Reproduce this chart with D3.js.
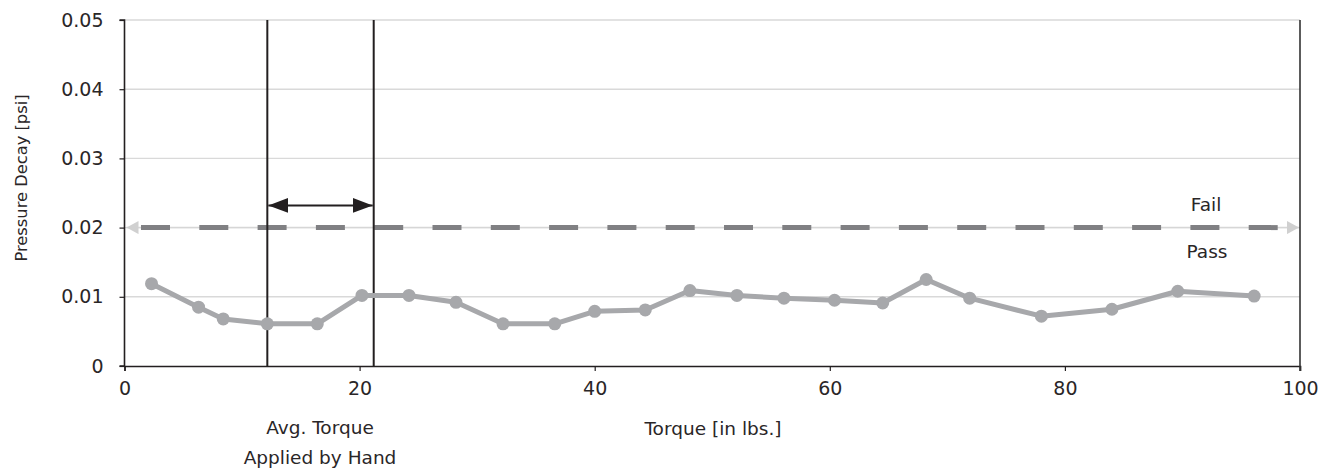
<!DOCTYPE html>
<html><head><meta charset="utf-8">
<script src="https://cdn.jsdelivr.net/npm/d3@7"></script>
<style>body{margin:0;background:#fff}text{font-family:"DejaVu Sans",sans-serif;fill:#2a2627}</style>
</head><body><svg id="c" width="1328" height="471"></svg>
<script>
const torque = [2.3,6.3,8.4,12.15,16.4,20.2,24.2,28.2,32.2,36.6,40.0,44.3,48.1,52.1,56.1,60.4,64.5,68.2,71.9,78.0,84.0,89.6,96.1];
const decay  = [0.0119,0.0085,0.0068,0.0061,0.0061,0.0102,0.0102,0.0092,0.0061,0.0061,0.0079,0.0081,0.0109,0.0102,0.0098,0.0095,0.0091,0.0125,0.0098,0.0072,0.0082,0.0108,0.0101];
const xTicks = [0,20,40,60,80,100];
const yTicks = [0,0.01,0.02,0.03,0.04,0.05];
const yTickLabels = ["0","0.01","0.02","0.03","0.04","0.05"];
const threshold = 0.02;
const handRange = [12.15,21.2];
const arrowY = 0.0232;

const FONT = '"DejaVu Sans", sans-serif';
const svg = d3.select("#c");
const x = d3.scaleLinear().domain([0,100]).range([124.5,1300]);
const y = d3.scaleLinear().domain([0,0.05]).range([366,20]);

// gridlines
svg.append("g").selectAll("line").data(yTicks.slice(1)).join("line")
  .attr("x1",x(0)).attr("x2",x(100)).attr("y1",d=>y(d)).attr("y2",d=>y(d))
  .attr("stroke","#d9d9d9").attr("stroke-width",1.4);

// axes
const xa = svg.append("g").attr("transform",`translate(0,${y(0)})`)
  .call(d3.axisBottom(x).tickValues(xTicks).tickSize(5).tickPadding(11).tickFormat(d3.format("d")));
const ya = svg.append("g").attr("transform",`translate(${x(0)},0)`)
  .call(d3.axisLeft(y).tickValues(yTicks).tickSize(5).tickPadding(16).tickFormat((d,i)=>yTickLabels[i]));
[xa,ya].forEach(a=>{a.select(".domain").attr("stroke","#231f20").attr("stroke-width",1.6);
  a.selectAll(".tick line").attr("stroke","#231f20").attr("stroke-width",1.2);
  a.selectAll("text").style("font-size","19px").style("font-family",FONT).attr("fill","#2a2627");});
ya.select(".domain").attr("d",`M-5,${y(0.05)}H0V${y(0)}H-5`);
// right border
svg.append("line").attr("x1",x(100)).attr("x2",x(100)).attr("y1",y(0.05)).attr("y2",y(0)+5)
  .attr("stroke","#333").attr("stroke-width",1.6);

// threshold arrow (light)
const defs = svg.append("defs");
defs.append("marker").attr("id","lg").attr("viewBox","0 0 10 10").attr("refX",10).attr("refY",5)
  .attr("markerWidth",12).attr("markerHeight",13).attr("markerUnits","userSpaceOnUse").attr("orient","auto-start-reverse").attr("preserveAspectRatio","none")
  .append("path").attr("d","M0,0L10,5L0,10Z").attr("fill","#d0d0d0");
defs.append("marker").attr("id","bk").attr("viewBox","0 0 10 10").attr("refX",10).attr("refY",5)
  .attr("markerWidth",20).attr("markerHeight",15).attr("markerUnits","userSpaceOnUse").attr("orient","auto-start-reverse").attr("preserveAspectRatio","none")
  .append("path").attr("d","M0,0L10,5L0,10Z").attr("fill","#231f20");
svg.append("line").attr("x1",x(0)+2).attr("x2",x(100)-1).attr("y1",y(threshold)).attr("y2",y(threshold))
  .attr("stroke","#d6d6d6").attr("stroke-width",1.5)
  .attr("marker-start","url(#lg)").attr("marker-end","url(#lg)");
svg.append("line").attr("x1",x(0)+16.5).attr("x2",x(100)-16).attr("y1",y(threshold)).attr("y2",y(threshold))
  .attr("stroke","#808083").attr("stroke-width",5).attr("stroke-dasharray","29,29.3");

// vertical hand lines
svg.append("g").selectAll("line").data(handRange).join("line")
  .attr("x1",d=>x(d)).attr("x2",d=>x(d)).attr("y1",y(0.05)).attr("y2",y(0))
  .attr("stroke","#231f20").attr("stroke-width",2);
svg.append("line").attr("x1",x(handRange[0])+1).attr("x2",x(handRange[1])-1).attr("y1",y(arrowY)).attr("y2",y(arrowY))
  .attr("stroke","#231f20").attr("stroke-width",2)
  .attr("marker-start","url(#bk)").attr("marker-end","url(#bk)");

// series
const pts = torque.map((t,i)=>[t,decay[i]]);
svg.append("path").datum(pts).attr("fill","none").attr("stroke","#a7a8ab").attr("stroke-width",5)
  .attr("stroke-linejoin","round").attr("d",d3.line().x(d=>x(d[0])).y(d=>y(d[1])));
svg.append("g").selectAll("circle").data(pts).join("circle")
  .attr("cx",d=>x(d[0])).attr("cy",d=>y(d[1])).attr("r",6.5).attr("fill","#a7a8ab");

// labels
const t = (s,xx,yy,opt={})=>{const e=svg.append("text").attr("x",xx).attr("y",yy).attr("text-anchor",opt.anchor||"middle")
  .style("font-size",(opt.size||18.5)+"px").style("font-family",FONT).text(s); if(opt.rot) e.attr("transform",`rotate(-90,${xx},${yy})`); return e;};
t("Torque [in lbs.]",713,435);
t("Avg. Torque",320,434);
t("Applied by Hand",320,464);
t("Pressure Decay [psi]",27,178,{rot:true,size:16.3});
t("Fail",1206,211);
t("Pass",1207,258);
</script></body></html>
